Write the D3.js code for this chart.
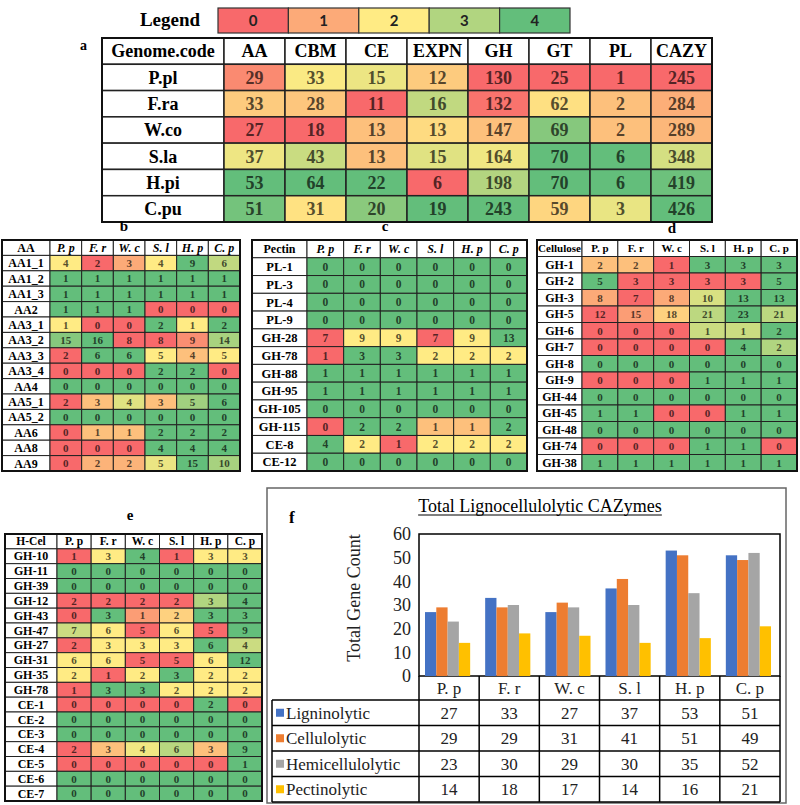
<!DOCTYPE html>
<html><head><meta charset="utf-8">
<script src="https://cdn.jsdelivr.net/npm/d3@7"></script>
<style>body{margin:0;background:#fff} svg{display:block}</style>
</head><body><svg id="c" width="800" height="805"></svg>
<script>
// ---------------- DATA ----------------
const legendLevels = [0, 1, 2, 3, 4];

// table a
const familyHeader = ["Genome.code","AA","CBM","CE","EXPN","GH","GT","PL","CAZY"];
const genomeCodes = ["P.pl","F.ra","W.co","S.la","H.pi","C.pu"];
const famAA   = [29, 33, 27, 37, 53, 51];
const famCBM  = [33, 28, 18, 43, 64, 31];
const famCE   = [15, 11, 13, 13, 22, 20];
const famEXPN = [12, 16, 13, 15, 6, 19];
const famGH   = [130, 132, 147, 164, 198, 243];
const famGT   = [25, 62, 69, 70, 70, 59];
const famPL   = [1, 2, 2, 6, 6, 3];
const famCAZY = [245, 284, 289, 348, 419, 426];

const speciesShort = ["P. p","F. r","W. c","S. l","H. p","C. p"];

// table b
const aaFamilies = ["AA1_1","AA1_2","AA1_3","AA2","AA3_1","AA3_2","AA3_3","AA3_4","AA4","AA5_1","AA5_2","AA6","AA8","AA9"];
const aaCounts = [
  [4,2,3,4,9,6],[1,1,1,1,1,1],[1,1,1,1,1,1],[1,1,1,0,0,0],[1,0,0,2,1,2],
  [15,16,8,8,9,14],[2,6,6,5,4,5],[0,0,0,2,2,0],[0,0,0,0,0,0],[2,3,4,3,5,6],
  [0,0,0,0,0,0],[0,1,1,2,2,2],[0,0,0,4,4,4],[0,2,2,5,15,10]
];

// table c
const pectinFamilies = ["PL-1","PL-3","PL-4","PL-9","GH-28","GH-78","GH-88","GH-95","GH-105","GH-115","CE-8","CE-12"];
const pectinCounts = [
  [0,0,0,0,0,0],[0,0,0,0,0,0],[0,0,0,0,0,0],[0,0,0,0,0,0],[7,9,9,7,9,13],
  [1,3,3,2,2,2],[1,1,1,1,1,1],[1,1,1,1,1,1],[0,0,0,0,0,0],[0,2,2,1,1,2],
  [4,2,1,2,2,2],[0,0,0,0,0,0]
];

// table d
const celluloseFamilies = ["GH-1","GH-2","GH-3","GH-5","GH-6","GH-7","GH-8","GH-9","GH-44","GH-45","GH-48","GH-74","GH-38"];
const celluloseCounts = [
  [2,2,1,3,3,3],[5,3,3,3,3,5],[8,7,8,10,13,13],[12,15,18,21,23,21],[0,0,0,1,1,2],
  [0,0,0,0,4,2],[0,0,0,0,0,0],[0,0,0,1,1,1],[0,0,0,0,0,0],[1,1,0,0,1,1],
  [0,0,0,0,0,0],[0,0,0,1,1,0],[1,1,1,1,1,1]
];

// table e
const hcelFamilies = ["GH-10","GH-11","GH-39","GH-12","GH-43","GH-47","GH-27","GH-31","GH-35","GH-78","CE-1","CE-2","CE-3","CE-4","CE-5","CE-6","CE-7"];
const hcelCounts = [
  [1,3,4,1,3,3],[0,0,0,0,0,0],[0,0,0,0,0,0],[2,2,2,2,3,4],[0,3,1,2,3,3],
  [7,6,5,6,5,9],[2,3,3,3,6,4],[6,6,5,5,6,12],[2,1,2,3,2,2],[1,3,3,2,2,2],
  [0,0,0,0,2,0],[0,0,0,0,0,0],[0,0,0,0,0,0],[2,3,4,6,3,9],[0,0,0,0,0,1],
  [0,0,0,0,0,0],[0,0,0,0,0,0]
];

// chart f
const chartCats = ["P. p","F. r","W. c","S. l","H. p","C. p"];
const seriesNames = ["Ligninolytic","Cellulolytic","Hemicellulolytic","Pectinolytic"];
const ligninolytic     = [27, 33, 27, 37, 53, 51];
const cellulolytic     = [29, 29, 31, 41, 51, 49];
const hemicellulolytic = [23, 30, 29, 30, 35, 52];
const pectinolytic     = [14, 18, 17, 14, 16, 21];
const yTicks = [0, 10, 20, 30, 40, 50, 60];

// ---------------- DRAWING ----------------
const svg = d3.select("#c");
const SERIF = "'Liberation Serif','Times New Roman',serif";
const RED = "#F8696B", YEL = "#FFEB84", GRN = "#63BE7B";
const levelColor = d3.scaleLinear().domain([0,2,4]).range([RED,YEL,GRN]).interpolate(d3.interpolateRgb);

function colorScaleFor(vals){
  const s = vals.slice().sort(d3.ascending);
  const mn = s[0], mx = s[s.length-1], md = d3.quantile(s, 0.5);
  return v => {
    if (mn === mx) return GRN;
    if (v <= mn) return RED;
    if (v >= mx) return GRN;
    if (v <= md) return d3.interpolateRgb(RED, YEL)((v-mn)/(md-mn));
    return d3.interpolateRgb(YEL, GRN)((v-md)/(mx-md));
  };
}
function textOn(fill){ return d3.rgb(fill).darker(3).formatHex(); }

// Legend
svg.append("text").attr("x",170).attr("y",26).attr("text-anchor","middle")
  .attr("font-family",SERIF).attr("font-weight","bold").attr("font-size",19).text("Legend");
const lx = d3.scaleBand().domain(legendLevels).range([218,570]);
const lg = svg.append("g");
lg.selectAll("rect").data(legendLevels).join("rect")
  .attr("x",d=>lx(d)).attr("y",8).attr("width",lx.bandwidth()).attr("height",25)
  .attr("fill",d=>levelColor(d)).attr("stroke","#333").attr("stroke-width",1.2);
lg.selectAll("text").data(legendLevels).join("text")
  .attr("x",d=>lx(d)+lx.bandwidth()/2).attr("y",21).attr("dy",".35em").attr("text-anchor","middle")
  .attr("font-family","Lato,'Open Sans',sans-serif").attr("font-weight","bold").attr("font-size",15)
  .attr("fill","#222").text(d=>d);

// generic heat table
function drawTable(o){
  const nR = o.rowLabels.length + 1;
  const yb = d3.scaleBand().domain(d3.range(nR)).range([o.y0, o.y1]);
  const xb = d3.scaleBand().domain(d3.range(o.header.length-1)).range([o.x0+o.labelW, o.x1]);
  const g = svg.append("g");
  let colorOf;
  if (o.mode === "col") {
    const sc = d3.range(o.header.length-1).map(j => colorScaleFor(o.values.map(r=>r[j])));
    colorOf = (i,j,v) => sc[j](v);
  } else {
    const sc = o.values.map(r => colorScaleFor(r));
    colorOf = (i,j,v) => sc[i](v);
  }
  const sw = o.sw || 1;
  g.append("rect").attr("x",o.x0).attr("y",yb(0)).attr("width",o.labelW).attr("height",yb.bandwidth())
    .attr("fill","#fff").attr("stroke","#222").attr("stroke-width",sw);
  g.append("text").attr("x",o.x0+o.labelW/2).attr("y",yb(0)+yb.bandwidth()/2).attr("dy",".35em")
    .attr("text-anchor","middle").attr("font-family",SERIF).attr("font-weight","bold")
    .attr("font-size",o.hfs).text(o.header[0]);
  o.header.slice(1).forEach((h,j)=>{
    g.append("rect").attr("x",xb(j)).attr("y",yb(0)).attr("width",xb.bandwidth()).attr("height",yb.bandwidth())
      .attr("fill","#fff").attr("stroke","#222").attr("stroke-width",sw);
    g.append("text").attr("x",xb(j)+xb.bandwidth()/2).attr("y",yb(0)+yb.bandwidth()/2).attr("dy",".35em")
      .attr("text-anchor","middle").attr("font-family",SERIF).attr("font-weight","bold")
      .attr("font-style",o.italic?"italic":"normal").attr("font-size",o.hfs).text(h);
  });
  o.rowLabels.forEach((lab,i)=>{
    const y = yb(i+1);
    g.append("rect").attr("x",o.x0).attr("y",y).attr("width",o.labelW).attr("height",yb.bandwidth())
      .attr("fill","#fff").attr("stroke","#222").attr("stroke-width",sw);
    g.append("text").attr("x",o.x0+o.labelW/2).attr("y",y+yb.bandwidth()/2).attr("dy",".35em")
      .attr("text-anchor","middle").attr("font-family",SERIF).attr("font-weight","bold")
      .attr("font-size",o.lfs).text(lab);
    o.values[i].forEach((v,j)=>{
      const f = colorOf(i,j,v);
      g.append("rect").attr("x",xb(j)).attr("y",y).attr("width",xb.bandwidth()).attr("height",yb.bandwidth())
        .attr("fill",f).attr("stroke","#222").attr("stroke-width",sw);
      g.append("text").attr("x",xb(j)+xb.bandwidth()/2).attr("y",y+yb.bandwidth()/2).attr("dy",".35em")
        .attr("text-anchor","middle").attr("font-family",SERIF).attr("font-weight","bold")
        .attr("font-size",o.vfs).attr("fill",textOn(f)).text(v);
    });
  });
  g.append("rect").attr("x",o.x0).attr("y",o.y0).attr("width",o.x1-o.x0).attr("height",o.y1-o.y0)
    .attr("fill","none").attr("stroke","#111").attr("stroke-width",o.outer||2);
}

// table a
const tableARows = genomeCodes.map((_,i)=>[famAA[i],famCBM[i],famCE[i],famEXPN[i],famGH[i],famGT[i],famPL[i],famCAZY[i]]);
drawTable({x0:102,x1:712,y0:38,y1:222,labelW:122,header:familyHeader,rowLabels:genomeCodes,values:tableARows,
  mode:"col",hfs:18,lfs:18,vfs:18,sw:1.5,outer:2});
svg.append("text").attr("x",80).attr("y",50).attr("font-family",SERIF).attr("font-weight","bold").attr("font-size",14).text("a");

// panel letters
[["b",124,231],["c",385,231],["d",672,233],["e",130,520]].forEach(([t,x,y])=>{
  svg.append("text").attr("x",x).attr("y",y).attr("text-anchor","middle").attr("font-family",SERIF)
    .attr("font-weight","bold").attr("font-size",15).text(t);
});

drawTable({x0:2,x1:240,y0:240,y1:471,labelW:48,header:["AA",...speciesShort],rowLabels:aaFamilies,values:aaCounts,
  mode:"row",italic:true,hfs:12,lfs:12,vfs:11,outer:2});
drawTable({x0:252,x1:527,y0:240,y1:471,labelW:55,header:["Pectin",...speciesShort],rowLabels:pectinFamilies,values:pectinCounts,
  mode:"row",italic:true,hfs:12,lfs:12.5,vfs:11.5,outer:2});
drawTable({x0:537,x1:797,y0:240,y1:471,labelW:45,header:["Cellulose",...speciesShort],rowLabels:celluloseFamilies,values:celluloseCounts,
  mode:"row",italic:false,hfs:11,lfs:12,vfs:11,outer:2});
drawTable({x0:5,x1:262,y0:534,y1:801,labelW:52,header:["H-Cel",...speciesShort],rowLabels:hcelFamilies,values:hcelCounts,
  mode:"row",italic:false,hfs:11.5,lfs:12,vfs:11,outer:2});

// ---------------- chart f ----------------
const fg = svg.append("g");
fg.append("rect").attr("x",267).attr("y",488).attr("width",519).attr("height",315)
  .attr("fill","#fff").attr("stroke","#666").attr("stroke-width",1.5);
const title = fg.append("text").attr("x",540).attr("y",512).attr("text-anchor","middle")
  .attr("font-family",SERIF).attr("font-size",18).text("Total Lignocellulolytic  CAZymes");
const tb = title.node().getBBox();
fg.append("line").attr("x1",tb.x).attr("x2",tb.x+tb.width).attr("y1",515).attr("y2",515).attr("stroke","#000").attr("stroke-width",1);
fg.append("text").attr("x",289).attr("y",523).attr("font-family",SERIF).attr("font-weight","bold").attr("font-size",17).text("f");

const px0 = 419, px1 = 780, py0 = 676, py1 = 534;
const x = d3.scaleBand().domain(chartCats).range([px0,px1]);
const y = d3.scaleLinear().domain([0,60]).range([py0,py1]);
const seriesData = [ligninolytic, cellulolytic, hemicellulolytic, pectinolytic];
const seriesColors = ["#4472C4","#ED7D31","#A5A5A5","#FFC000"];
const xs = d3.scaleBand().domain(d3.range(4)).range([6, x.bandwidth()-9]);

fg.append("rect").attr("x",px0).attr("y",py1).attr("width",px1-px0).attr("height",py0-py1)
  .attr("fill","none").attr("stroke","#000").attr("stroke-width",1.5);
seriesData.forEach((arr,s)=>{
  fg.append("g").selectAll("rect").data(arr).join("rect")
    .attr("x",(d,i)=>x(chartCats[i])+xs(s)).attr("width",xs.bandwidth())
    .attr("y",d=>y(d)).attr("height",d=>py0-y(d)).attr("fill",seriesColors[s]);
});
const yAxis = fg.append("g").attr("transform",`translate(${px0},0)`)
  .call(d3.axisLeft(y).tickValues(yTicks).tickSize(0).tickPadding(8));
yAxis.select(".domain").remove();
yAxis.selectAll("text").attr("font-family",SERIF).attr("font-size",18).attr("fill","#222");
fg.append("text").attr("transform","translate(360,598) rotate(-90)").attr("text-anchor","middle")
  .attr("font-family",SERIF).attr("font-size",18).attr("fill","#222").text("Total Gene Count");

// data table
const rowTop = [676, 700, 725.5, 751, 776.5, 802];
const dtLeft = 272;
const dg = fg.append("g").attr("stroke","#000").attr("stroke-width",1.5);
chartCats.forEach((c,i)=>{
  fg.append("text").attr("x",x(c)+x.bandwidth()/2).attr("y",(rowTop[0]+rowTop[1])/2).attr("dy",".35em")
    .attr("text-anchor","middle").attr("font-family",SERIF).attr("font-size",17).attr("fill","#222").text(c);
});
for(let r=1;r<rowTop.length;r++){
  dg.append("line").attr("x1",dtLeft).attr("x2",px1).attr("y1",rowTop[r]).attr("y2",rowTop[r]);
}
dg.append("line").attr("x1",dtLeft).attr("x2",dtLeft).attr("y1",rowTop[1]).attr("y2",rowTop[5]);
x.domain().forEach(c=>{
  dg.append("line").attr("x1",x(c)).attr("x2",x(c)).attr("y1",py0).attr("y2",rowTop[5]);
});
dg.append("line").attr("x1",px1).attr("x2",px1).attr("y1",py0).attr("y2",rowTop[5]);
seriesNames.forEach((nm,s)=>{
  const cy = (rowTop[s+1]+rowTop[s+2])/2;
  fg.append("rect").attr("x",276).attr("y",cy-4).attr("width",8).attr("height",8).attr("fill",seriesColors[s]);
  fg.append("text").attr("x",286).attr("y",cy).attr("dy",".35em").attr("font-family",SERIF).attr("font-size",17)
    .attr("fill","#222").text(nm);
  seriesData[s].forEach((v,i)=>{
    fg.append("text").attr("x",x(chartCats[i])+x.bandwidth()/2).attr("y",cy).attr("dy",".35em")
      .attr("text-anchor","middle").attr("font-family",SERIF).attr("font-size",17).attr("fill","#222").text(v);
  });
});
</script></body></html>
